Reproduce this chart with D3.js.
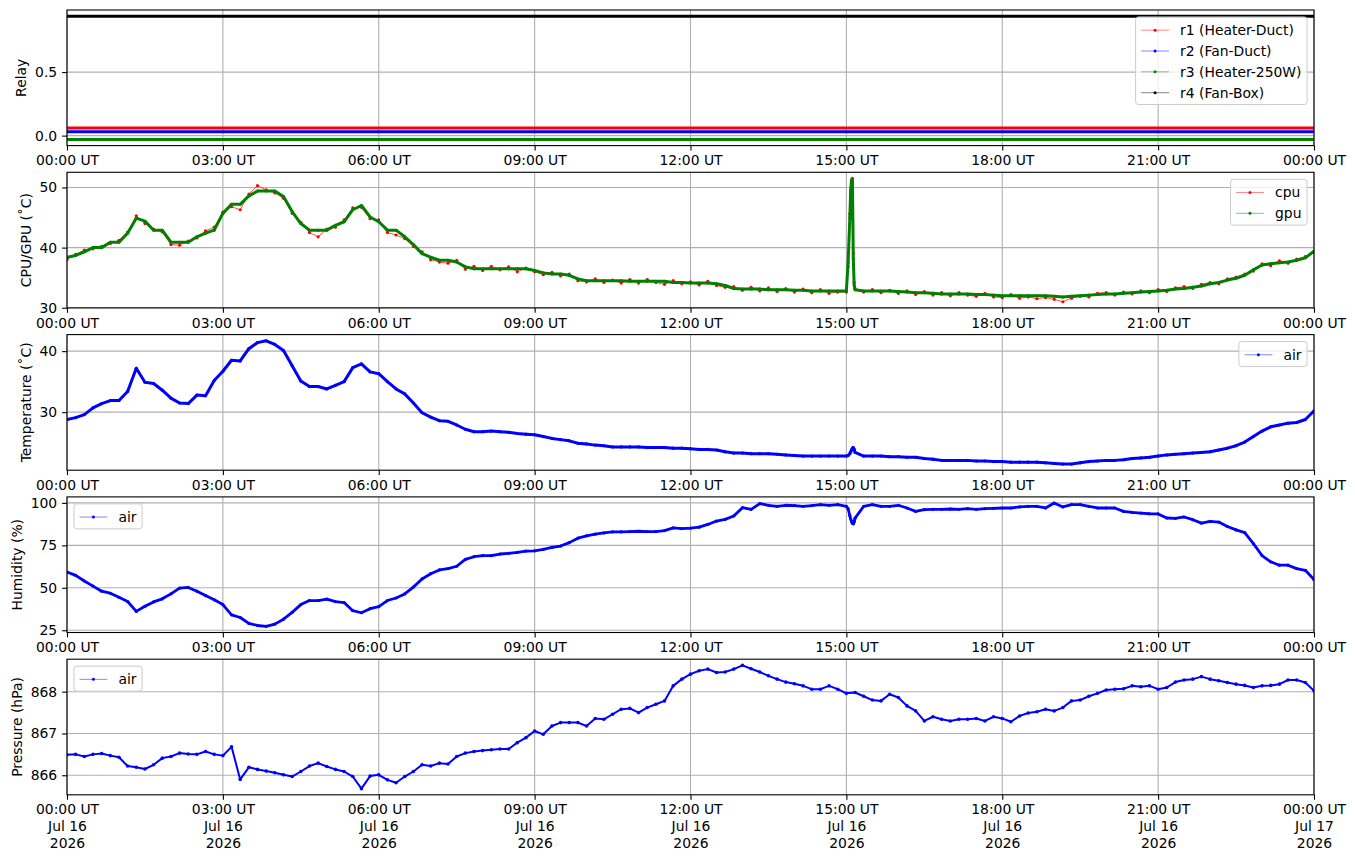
<!DOCTYPE html>
<html>
<head>
<meta charset="utf-8">
<script src="https://d3js.org/d3.v7.min.js"></script>
<style>
    body { margin: 0; background: #fff; }
    text { font-family: "DejaVu Sans", sans-serif; }
</style>
</head>
<body>
<svg id="chart" width="1355" height="861"></svg>
<script>
"use strict"

// one sample every 10 minutes, 00:00 UT Jul 16 2026 .. 00:00 UT Jul 17 2026
const startTime = Date.UTC(2026, 6, 16);
const stepMinutes = 10;

// relay states (offset a little so they do not overlap)
let relayNames = ["r1 (Heater-Duct)", "r2 (Fan-Duct)", "r3 (Heater-250W)", "r4 (Fan-Box)"];
let relayMinutes = [0, 1440];
let relay1 = [0.06, 0.06];
let relay2 = [0.03, 0.03];
let relay3 = [-0.03, -0.03];
let relay4 = [0.94, 0.94];

let cpu = [
    38.0, 38.9, 39.6, 39.8, 40.2, 40.7,  41.2, 42.6, 45.3, 44.0, 43.1, 42.6,
    40.5, 40.4, 41.1, 41.6, 42.8, 43.4,  45.9, 46.8, 46.3, 48.9, 50.3, 49.6,
    49.1, 48.2, 45.7, 44.2, 42.5, 41.8,  43.1, 43.4, 44.6, 46.6, 46.7, 44.8,
    44.6, 42.5, 42.1, 41.5, 40.2, 39.3,  38.0, 37.6, 37.4, 37.9, 36.4, 36.9,
    36.2, 36.9, 36.3, 36.8, 36.0, 36.6,  36.0, 35.5, 35.9, 35.3, 35.6, 34.5,
    34.3, 34.8, 34.2, 34.6, 34.1, 34.7,  34.1, 34.7, 34.2, 33.9, 34.5, 34.0,
    34.3, 33.8, 34.4, 33.7, 33.4, 33.5,  32.9, 33.4, 32.8, 33.3, 32.7, 33.2,
    32.6, 33.1, 32.5, 33.0, 32.4, 32.6,  32.6, 33.2, 32.6, 33.0, 32.5, 32.9,
    32.4, 32.8, 32.2, 32.7, 32.1, 32.5,  32.0, 32.5, 32.1, 31.9, 32.4, 31.8,
    31.7, 32.2, 31.6, 31.8, 31.5, 31.7,  31.4, 31.0, 31.6, 31.9, 31.8, 32.4,
    32.5, 32.1, 32.6, 32.3, 32.8, 32.5,  33.0, 32.7, 33.3, 33.5, 33.2, 33.9,
    34.2, 34.0, 34.8, 35.1, 35.6, 36.1,  37.3, 37.0, 37.8, 37.4, 38.1, 38.5,
    39.2
];
let gpu = [
    38.4, 38.7, 39.3, 40.0, 40.0, 40.9,  40.9, 42.4, 44.9, 44.4, 42.9, 42.9,
    40.9, 40.9, 40.9, 41.8, 42.4, 42.9,  45.7, 47.2, 47.2, 48.6, 49.4, 49.4,
    49.4, 48.5, 46.0, 44.0, 42.9, 42.9,  42.9, 43.7, 44.3, 46.3, 47.0, 45.1,
    44.3, 42.9, 42.9, 41.8, 40.5, 39.0,  38.4, 37.9, 37.9, 37.6, 36.8, 36.5,
    36.5, 36.5, 36.5, 36.5, 36.5, 36.5,  36.2, 35.8, 35.6, 35.6, 35.4, 34.8,
    34.5, 34.5, 34.5, 34.5, 34.5, 34.4,  34.4, 34.4, 34.4, 34.4, 34.2, 34.2,
    34.1, 34.1, 34.1, 34.0, 33.7, 33.2,  33.1, 33.1, 33.1, 33.0, 33.0, 33.0,
    32.9, 32.9, 32.8, 32.8, 32.8, 32.8,  32.8, 33.0, 32.8, 32.8, 32.8, 32.8,
    32.7, 32.6, 32.5, 32.5, 32.4, 32.3,  32.3, 32.3, 32.3, 32.2, 32.2, 32.1,
    32.0, 32.0, 32.0, 32.0, 32.0, 32.0,  31.9, 31.8, 31.9, 32.0, 32.1, 32.2,
    32.3, 32.3, 32.4, 32.5, 32.6, 32.7,  32.8, 32.9, 33.1, 33.2, 33.4, 33.6,
    34.0, 34.2, 34.6, 34.9, 35.4, 36.3,  37.1, 37.3, 37.5, 37.6, 37.9, 38.3,
    39.4
];

let airTemp = [
    28.8, 29.1, 29.6, 30.7, 31.4, 31.9,  31.9, 33.4, 37.2, 34.9, 34.7, 33.6,
    32.3, 31.5, 31.4, 32.8, 32.7, 35.2,  36.7, 38.5, 38.4, 40.4, 41.4, 41.7,
    41.1, 40.1, 37.6, 35.1, 34.2, 34.2,  33.8, 34.4, 35.0, 37.3, 37.9, 36.6,
    36.3, 35.0, 33.8, 33.0, 31.5, 29.9,  29.2, 28.6, 28.5, 27.9, 27.2, 26.8,
    26.8, 26.9, 26.8, 26.7, 26.5, 26.4,  26.3, 26.0, 25.7, 25.5, 25.3, 24.9,
    24.8, 24.6, 24.5, 24.3, 24.3, 24.3,  24.3, 24.2, 24.2, 24.2, 24.1, 24.1,
    24.0, 23.9, 23.9, 23.8, 23.5, 23.3,  23.3, 23.2, 23.2, 23.2, 23.1, 23.0,
    22.9, 22.8, 22.8, 22.8, 22.8, 22.8,  22.8, 23.4, 22.8, 22.8, 22.8, 22.7,
    22.7, 22.6, 22.6, 22.4, 22.3, 22.1,  22.1, 22.1, 22.1, 22.0, 22.0, 21.9,
    21.9, 21.8, 21.8, 21.8, 21.8, 21.7,  21.6, 21.5, 21.5, 21.7, 21.9, 22.0,
    22.1, 22.1, 22.2, 22.4, 22.5, 22.6,  22.8, 23.0, 23.1, 23.2, 23.3, 23.4,
    23.5, 23.8, 24.1, 24.5, 25.1, 26.0,  26.9, 27.6, 27.9, 28.2, 28.3, 28.8,
    30.2
];

let airHumidity = [
    59.3, 57.3, 54.0, 51.0, 48.0, 46.8,  44.4, 41.9, 36.1, 39.1, 41.7, 43.5,
    46.4, 49.8, 50.2, 48.0, 45.4, 42.9,  40.1, 34.1, 32.5, 29.0, 27.8, 27.3,
    28.6, 31.5, 35.5, 40.1, 42.5, 42.5,  43.3, 41.9, 41.3, 36.5, 35.3, 37.7,
    38.9, 42.5, 44.0, 46.4, 50.4, 55.2,  58.3, 60.5, 61.3, 62.7, 66.7, 68.3,
    68.9, 68.9, 69.9, 70.3, 70.8, 71.6,  71.8, 72.6, 73.8, 74.6, 76.6, 79.2,
    80.6, 81.6, 82.3, 82.9, 82.9, 83.1,  83.3, 83.1, 83.1, 83.7, 85.3, 84.9,
    85.1, 85.7, 87.3, 89.3, 90.3, 92.3,  97.2, 96.2, 99.6, 98.6, 98.0, 98.6,
    98.4, 98.0, 98.4, 99.0, 98.6, 99.0,  98.0, 91.0, 98.0, 99.0, 98.0, 98.0,
    98.6, 97.0, 95.0, 96.0, 96.2, 96.2,  96.4, 96.2, 96.6, 96.2, 96.6, 96.8,
    97.0, 97.0, 97.6, 98.0, 98.0, 97.0,  99.9, 97.6, 99.0, 99.0, 98.0, 97.0,
    97.0, 97.0, 95.0, 94.4, 94.0, 93.6,  93.5, 91.1, 90.9, 91.7, 90.1, 88.1,
    89.1, 88.7, 86.1, 84.1, 82.5, 76.0,  69.0, 65.3, 63.3, 63.3, 61.3, 60.3,
    54.8
];

let airPressure = [
    866.49, 866.50, 866.45, 866.50, 866.52, 866.47,  866.43, 866.22, 866.19, 866.15, 866.25, 866.41,
    866.45, 866.53, 866.51, 866.50, 866.57, 866.50,  866.47, 866.68, 865.90, 866.19, 866.14, 866.10,
    866.06, 866.01, 865.97, 866.09, 866.22, 866.29,  866.21, 866.14, 866.09, 865.97, 865.68, 865.98,
    866.01, 865.89, 865.82, 865.97, 866.09, 866.25,  866.22, 866.29, 866.27, 866.45, 866.53, 866.57,
    866.59, 866.61, 866.63, 866.63, 866.78, 866.90,  867.06, 866.98, 867.18, 867.26, 867.26, 867.26,
    867.18, 867.36, 867.34, 867.46, 867.58, 867.60,  867.50, 867.62, 867.70, 867.78, 868.14, 868.30,
    868.42, 868.50, 868.54, 868.46, 868.47, 868.54,  868.63, 868.55, 868.47, 868.38, 868.30, 868.23,
    868.19, 868.14, 868.06, 868.06, 868.14, 868.06,  867.96, 867.98, 867.89, 867.80, 867.78, 867.94,
    867.86, 867.66, 867.54, 867.30, 867.40, 867.34,  867.30, 867.34, 867.34, 867.36, 867.30, 867.40,
    867.36, 867.28, 867.42, 867.49, 867.52, 867.58,  867.54, 867.62, 867.78, 867.80, 867.89, 867.96,
    868.04, 868.06, 868.07, 868.14, 868.12, 868.14,  868.06, 868.10, 868.23, 868.28, 868.30, 868.36,
    868.30, 868.26, 868.22, 868.18, 868.15, 868.10,  868.14, 868.15, 868.18, 868.28, 868.28, 868.22,
    868.02
];

// short burst just after 15:00 UT, sampled more finely
let spikeMinutes = [902, 904, 905, 906, 907, 908, 909];
let cpuSpike = [36.8, 45.6, 48.8, 51.0, 51.5, 39.0, 34.2];
let gpuSpike = [37.5, 45.0, 49.6, 51.3, 51.2, 38.2, 33.8];
let airTempSpike = [22.9, 23.2, 23.5, 23.8, 24.1, 24.2, 23.9];
let airHumiditySpike = [96.5, 92.5, 90.5, 89.0, 88.0, 87.7, 88.8];

let relayTicks = [0, 0.5];
let cpuTicks = [30, 40, 50];
let tempTicks = [30, 40];
let humidityTicks = [25, 50, 75, 100];
let pressureTicks = [866, 867, 868];

// layout (px)
const plotLeft = 67;
const plotRight = 1314;
const firstTop = 10;
const panelPitch = 162.3;
const panelHeight = 135.6;
const fs = 13.9;

function minuteToDate(m) {
    return new Date(startTime + m * 60000);
}

function sampled(values, extraMinutes, extraValues) {
    let pts = values.map(function (v, i) { return { t: minuteToDate(i * stepMinutes), v: v }; });
    if (extraMinutes) {
        extraMinutes.forEach(function (m, i) { pts.push({ t: minuteToDate(m), v: extraValues[i] }); });
        pts.sort(function (a, b) { return a.t - b.t; });
    }
    return pts;
}

function atMinutes(minutes, values) {
    return minutes.map(function (m, i) { return { t: minuteToDate(m), v: values[i] }; });
}

let panels = [
    { label: "Relay", ticks: relayTicks, fmt: d3.format(".1f"), legendAt: "right", series: [
        { name: relayNames[0], color: "#ff0000", data: atMinutes(relayMinutes, relay1), width: 3, r: 0 },
        { name: relayNames[1], color: "#0000ff", data: atMinutes(relayMinutes, relay2), width: 3, r: 0 },
        { name: relayNames[2], color: "#008000", data: atMinutes(relayMinutes, relay3), width: 3, r: 0 },
        { name: relayNames[3], color: "#000000", data: atMinutes(relayMinutes, relay4), width: 3, r: 0 }
    ]},
    { label: "CPU/GPU (\u02daC)", ticks: cpuTicks, fmt: d3.format("d"), legendAt: "right", series: [
        { name: "cpu", color: "#ff0000", data: sampled(cpu, spikeMinutes, cpuSpike), width: 0.7, r: 1.6 },
        { name: "gpu", color: "#008000", data: sampled(gpu, spikeMinutes, gpuSpike), width: 3.0, r: 1.5 }
    ]},
    { label: "Temperature (\u02daC)", ticks: tempTicks, fmt: d3.format("d"), legendAt: "right", series: [
        { name: "air", color: "#0000ff", data: sampled(airTemp, spikeMinutes, airTempSpike), width: 3.0, r: 1.6 }
    ]},
    { label: "Humidity (%)", ticks: humidityTicks, fmt: d3.format("d"), legendAt: "left", series: [
        { name: "air", color: "#0000ff", data: sampled(airHumidity, spikeMinutes, airHumiditySpike), width: 2.8, r: 1.6 }
    ]},
    { label: "Pressure (hPa)", ticks: pressureTicks, fmt: d3.format("d"), legendAt: "left", series: [
        { name: "air", color: "#0000ff", data: sampled(airPressure), width: 2.0, r: 1.8 }
    ]}
];

let svg = d3.select("#chart");

let x = d3.scaleUtc()
    .domain([minuteToDate(0), minuteToDate(1440)])
    .range([plotLeft, plotRight]);
let xTicks = d3.utcHour.every(3).range(minuteToDate(0), minuteToDate(1441));

function drawPanel(p, idx) {
    let top = firstTop + idx * panelPitch;
    let bottom = top + panelHeight;

    // matplotlib style 5% margin around the data
    let all = [];
    p.series.forEach(function (s) { s.data.forEach(function (d) { all.push(d.v); }); });
    let lo = d3.min(all), hi = d3.max(all);
    let pad = (hi - lo) * 0.05;
    let y = d3.scaleLinear().domain([lo - pad, hi + pad]).range([bottom, top]);

    let g = svg.append("g").attr("class", "panel");

    let clipId = "clip" + idx;
    g.append("clipPath").attr("id", clipId)
        .append("rect")
        .attr("x", plotLeft).attr("y", top)
        .attr("width", plotRight - plotLeft).attr("height", panelHeight);

    // grid
    let grid = g.append("g").attr("stroke", "#b0b0b0").attr("stroke-width", 1.1);
    grid.selectAll(".vx").data(xTicks).enter().append("line")
        .attr("x1", function (d) { return x(d); }).attr("x2", function (d) { return x(d); })
        .attr("y1", top).attr("y2", bottom);
    grid.selectAll(".hy").data(p.ticks).enter().append("line")
        .attr("x1", plotLeft).attr("x2", plotRight)
        .attr("y1", function (d) { return y(d); }).attr("y2", function (d) { return y(d); });

    // data
    let plot = g.append("g").attr("clip-path", "url(#" + clipId + ")");
    let line = d3.line()
        .x(function (d) { return x(d.t); })
        .y(function (d) { return y(d.v); });
    p.series.forEach(function (s) {
        plot.append("path")
            .datum(s.data)
            .attr("d", line)
            .attr("fill", "none")
            .attr("stroke", s.color)
            .attr("stroke-width", s.width)
            .attr("stroke-linejoin", "round");
        if (s.r > 0) {
            plot.append("g").selectAll("circle")
                .data(s.data).enter().append("circle")
                .attr("cx", function (d) { return x(d.t); })
                .attr("cy", function (d) { return y(d.v); })
                .attr("r", s.r)
                .attr("fill", s.color);
        }
    });

    // frame
    g.append("rect")
        .attr("x", plotLeft).attr("y", top)
        .attr("width", plotRight - plotLeft).attr("height", panelHeight)
        .attr("fill", "none").attr("stroke", "#000").attr("stroke-width", 1.1);

    // axes
    let xAxis = g.append("g")
        .attr("transform", "translate(0," + bottom + ")")
        .call(d3.axisBottom(x).tickValues(xTicks).tickSize(4.9).tickPadding(4.9)
            .tickFormat(d3.utcFormat("%H:%M UT")));
    let yAxis = g.append("g")
        .attr("transform", "translate(" + plotLeft + ",0)")
        .call(d3.axisLeft(y).tickValues(p.ticks).tickSize(4.9).tickPadding(4.9).tickFormat(p.fmt));

    [xAxis, yAxis].forEach(function (a) {
        a.select(".domain").remove();
        a.attr("font-size", fs).attr("font-family", "DejaVu Sans");
        a.selectAll(".tick line").attr("stroke", "#000").attr("stroke-width", 1.1);
        a.selectAll(".tick text").attr("fill", "#000");
    });

    if (idx === panels.length - 1) {
        let fmts = ["%H:%M UT", "%b %d", "%Y"];
        xAxis.selectAll(".tick text").each(function (d) {
            let t = d3.select(this).text(null).attr("dy", null);
            fmts.forEach(function (f, i) {
                t.append("tspan")
                    .attr("x", 0)
                    .attr("dy", i === 0 ? "0.71em" : "1.2em")
                    .text(d3.utcFormat(f)(d));
            });
        });
    }

    // y label, just left of the tick labels
    let tickLeft = plotLeft;
    yAxis.selectAll(".tick text").each(function () {
        let b = this.getBBox();
        tickLeft = Math.min(tickLeft, plotLeft + b.x);
    });
    let lx = tickLeft - 9;
    let ly = (top + bottom) / 2;
    g.append("text")
        .attr("transform", "translate(" + lx + "," + ly + ") rotate(-90)")
        .attr("text-anchor", "middle")
        .attr("font-size", fs)
        .attr("fill", "#000")
        .text(p.label);

    drawLegend(g, p.series, p.legendAt, top);
}

function drawLegend(g, series, side, top) {
    let bpad = 0.4 * fs;
    let handleLen = 2.0 * fs;
    let handlePad = 0.8 * fs;
    let rowStep = 1.5 * fs;
    let edge = 0.5 * fs;

    let lg = g.append("g");
    let frame = lg.append("rect");
    let texts = series.map(function (s) {
        return lg.append("text")
            .attr("font-size", fs)
            .attr("fill", "#000")
            .attr("dy", "0.35em")
            .text(s.name);
    });
    let textW = d3.max(texts, function (t) { return t.node().getComputedTextLength(); });
    let boxW = bpad + handleLen + handlePad + textW + bpad;
    let boxH = 2 * bpad + series.length * fs + (series.length - 1) * 0.5 * fs;
    let left = side === "right" ? plotRight - edge - boxW : plotLeft + edge;
    let boxTop = top + edge;

    frame.attr("x", left).attr("y", boxTop)
        .attr("width", boxW).attr("height", boxH)
        .attr("rx", 2.8).attr("ry", 2.8)
        .attr("fill", "#fff").attr("fill-opacity", 0.8)
        .attr("stroke", "#cccccc").attr("stroke-width", 1);

    series.forEach(function (s, i) {
        let cy = boxTop + bpad + fs * 0.55 + i * rowStep;
        let hx = left + bpad;
        lg.append("line")
            .attr("x1", hx).attr("x2", hx + handleLen)
            .attr("y1", cy).attr("y2", cy)
            .attr("stroke", s.color).attr("stroke-width", 0.8).attr("stroke-opacity", 0.6);
        lg.append("circle")
            .attr("cx", hx + handleLen / 2).attr("cy", cy)
            .attr("r", 1.5).attr("fill", s.color);
        texts[i].attr("x", hx + handleLen + handlePad).attr("y", cy);
    });
}

panels.forEach(drawPanel);
</script>
</body>
</html>
